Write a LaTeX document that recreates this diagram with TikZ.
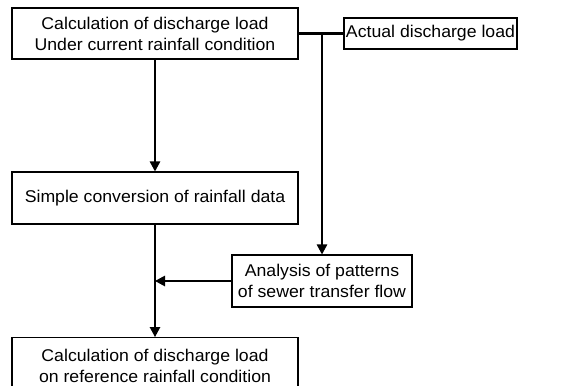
\documentclass[tikz,border=0pt]{standalone}
\usepackage{fontspec}
\setmainfont[FakeStretch=1.04]{Liberation Sans}
\usetikzlibrary{arrows.meta}
\begin{document}
\begin{tikzpicture}[x=1pt,y=-1pt,
  flowbox/.style={draw=black,line width=1.2pt,inner sep=0pt,align=center,
    font=\fontsize{17}{21}\selectfont},
  link/.style={line width=1.2pt,-{Triangle[length=10pt,width=10.5pt]}}]
\useasboundingbox (0,0) rectangle (561,385);
\clip (0,0) rectangle (561,385);
% process boxes
\node[flowbox,minimum width=286pt,minimum height=51pt] (calc) at (155,33.5)
  {Calculation of discharge load\\Under current rainfall condition};
\node[flowbox,minimum width=173pt,minimum height=31pt] (actual) at (430.5,33.5)
  {Actual discharge load};
\node[flowbox,minimum width=286pt,minimum height=52pt] (simple) at (155,198)
  {Simple conversion of rainfall data};
\node[flowbox,minimum width=180pt,minimum height=52pt] (analysis) at (322,281)
  {Analysis of patterns\\of sewer transfer flow};
\node[flowbox,minimum width=286pt,minimum height=56pt,anchor=north] (result) at (155,337)
  {Calculation of discharge load\\on reference rainfall condition};
% junction points
\coordinate (tap) at (analysis.north |- calc.east);
\coordinate (merge) at (simple.south |- analysis.west);
% connectors
\draw[line width=2.2pt] (calc.east) -- (actual.west);
\draw[link] (tap) -- (analysis.north);
\draw[link] (calc.south) -- (simple.north);
\draw[link] (simple.south) -- (result.north);
\draw[link] (analysis.west) -- (merge);
\end{tikzpicture}
\end{document}
